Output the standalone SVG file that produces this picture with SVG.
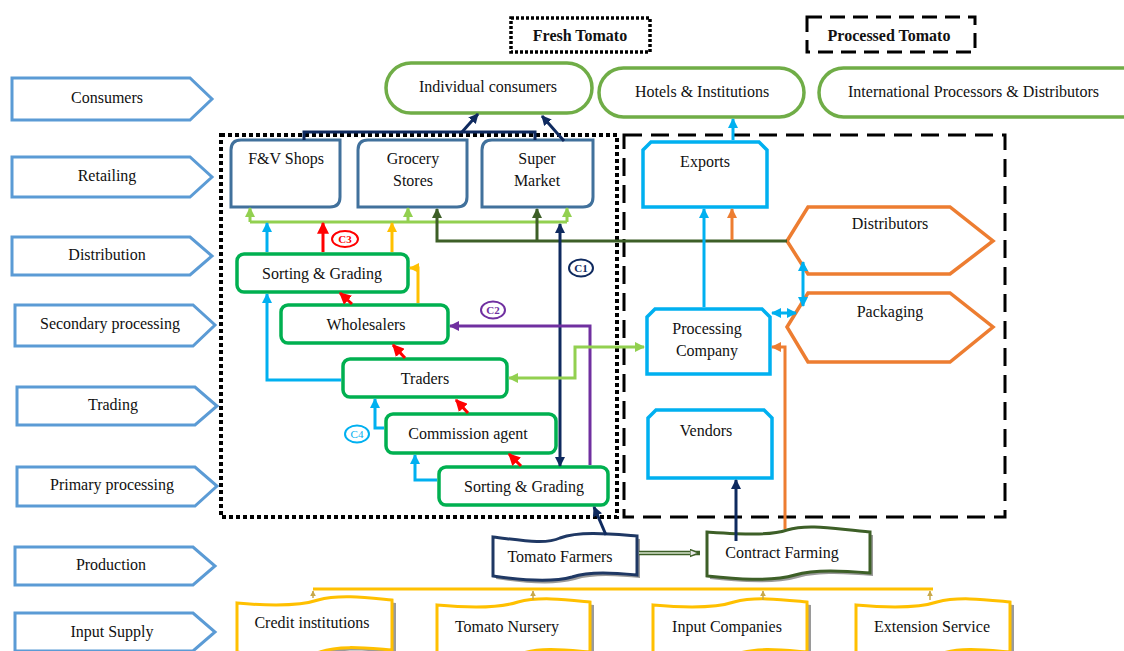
<svg xmlns="http://www.w3.org/2000/svg" width="1124" height="651" viewBox="0 0 1124 651" font-family="'Liberation Serif', 'Times New Roman', 'DejaVu Serif', serif">
<style>
text{font-family:'Liberation Serif','Times New Roman','DejaVu Serif',serif;font-size:16px;fill:#111;text-anchor:middle}
.b{font-weight:bold}
.stage{fill:#fff;stroke:#5b9bd5;stroke-width:3}
.cons{fill:#fff;stroke:#70ad47;stroke-width:3.5}
.ret{fill:#fff;stroke:#41719c;stroke-width:3}
.gb{fill:#fff;stroke:#00b050;stroke-width:3.5}
.pb{fill:#fff;stroke:#00b0f0;stroke-width:3.5}
.hex{fill:#fff;stroke:#ed7d31;stroke-width:3.5}
.inp{fill:#fff;stroke:#ffc000;stroke-width:3}
.sh{fill:#9a9a9a}
.c{fill:none;stroke-width:3}
.lab{font-size:11px;font-weight:bold}
</style>
<defs>
<marker id="m-blue" viewBox="0 0 10 10" refX="9" refY="5" markerWidth="10" markerHeight="10" markerUnits="userSpaceOnUse" orient="auto-start-reverse"><path d="M0,0 L10,5 L0,10 z" fill="#00b0f0"/></marker>
<marker id="m-red" viewBox="0 0 10 10" refX="9" refY="5" markerWidth="12" markerHeight="12" markerUnits="userSpaceOnUse" orient="auto-start-reverse"><path d="M0,0 L10,5 L0,10 z" fill="#ff0000"/></marker>
<marker id="m-yel" viewBox="0 0 10 10" refX="9" refY="5" markerWidth="10" markerHeight="10" markerUnits="userSpaceOnUse" orient="auto-start-reverse"><path d="M0,0 L10,5 L0,10 z" fill="#ffc000"/></marker>
<marker id="m-lg" viewBox="0 0 10 10" refX="9" refY="5" markerWidth="10" markerHeight="10" markerUnits="userSpaceOnUse" orient="auto-start-reverse"><path d="M0,0 L10,5 L0,10 z" fill="#92d050"/></marker>
<marker id="m-dg" viewBox="0 0 10 10" refX="9" refY="5" markerWidth="10" markerHeight="10" markerUnits="userSpaceOnUse" orient="auto-start-reverse"><path d="M0,0 L10,5 L0,10 z" fill="#3d5f27"/></marker>
<marker id="m-navy" viewBox="0 0 10 10" refX="9" refY="5" markerWidth="10" markerHeight="10" markerUnits="userSpaceOnUse" orient="auto-start-reverse"><path d="M0,0 L10,5 L0,10 z" fill="#0f2a5f"/></marker>
<marker id="m-pur" viewBox="0 0 10 10" refX="9" refY="5" markerWidth="10" markerHeight="10" markerUnits="userSpaceOnUse" orient="auto-start-reverse"><path d="M0,0 L10,5 L0,10 z" fill="#7030a0"/></marker>
<marker id="m-or" viewBox="0 0 10 10" refX="9" refY="5" markerWidth="10" markerHeight="10" markerUnits="userSpaceOnUse" orient="auto-start-reverse"><path d="M0,0 L10,5 L0,10 z" fill="#ed7d31"/></marker>
<marker id="m-small" viewBox="0 0 10 10" refX="9" refY="5" markerWidth="6" markerHeight="6" markerUnits="userSpaceOnUse" orient="auto"><path d="M0,0 L10,5 L0,10 z" fill="#c8a84a"/></marker>
<marker id="m-dbl" viewBox="0 0 10 10" refX="9" refY="5" markerWidth="9" markerHeight="9" markerUnits="userSpaceOnUse" orient="auto"><path d="M0,1 L10,5 L0,9 z" fill="#e8e8e8" stroke="#3d5f27" stroke-width="1.5"/></marker>
</defs>
<rect width="1124" height="651" fill="#fff"/>

<!-- Legend -->
<g id="legend-fresh"><rect x="511" y="18" width="139" height="34" fill="none" stroke="#000" stroke-width="3.5" stroke-dasharray="3 2"/><text class="b" x="580" y="41">Fresh Tomato</text></g>
<g id="legend-processed"><rect x="807" y="17" width="168" height="35" fill="none" stroke="#000" stroke-width="3" stroke-dasharray="15 8"/><text class="b" x="889" y="41">Processed Tomato</text></g>

<!-- Stage labels -->
<g id="stage-consumers"><path class="stage" d="M12,78 H190 L212,99 L190,120 H12 Z"/><text x="107" y="103">Consumers</text></g>
<g id="stage-retailing"><path class="stage" d="M12,157 H190 L212,177 L190,197 H12 Z"/><text x="107" y="181">Retailing</text></g>
<g id="stage-distribution"><path class="stage" d="M12,237 H190 L212,256 L190,275 H12 Z"/><text x="107" y="260">Distribution</text></g>
<g id="stage-secondary"><path class="stage" d="M15,305 H193 L215,325 L193,346 H15 Z"/><text x="110" y="329">Secondary processing</text></g>
<g id="stage-trading"><path class="stage" d="M17,387 H195 L217,406 L195,425 H17 Z"/><text x="113" y="410">Trading</text></g>
<g id="stage-primary"><path class="stage" d="M17,467 H195 L217,486 L195,506 H17 Z"/><text x="112" y="490">Primary processing</text></g>
<g id="stage-production"><path class="stage" d="M15,547 H193 L215,566 L193,585 H15 Z"/><text x="111" y="570">Production</text></g>
<g id="stage-input"><path class="stage" d="M15,613 H193 L215,632 L193,651 H15 Z"/><text x="112" y="637">Input Supply</text></g>

<!-- Region boxes -->
<g id="region-fresh"><rect x="221" y="135" width="396" height="382" fill="none" stroke="#000" stroke-width="4" stroke-dasharray="4 3"/></g>
<g id="region-processed"><rect x="624" y="135" width="381" height="382" fill="none" stroke="#000" stroke-width="3" stroke-dasharray="18 9"/></g>

<!-- Consumers -->
<g id="individual-consumers"><rect class="cons" x="386" y="63" width="206" height="50" rx="25"/><text x="488" y="92">Individual consumers</text></g>
<g id="hotels"><rect class="cons" x="599" y="68" width="205" height="49" rx="24.5"/><text x="702" y="97">Hotels &amp; Institutions</text></g>
<g id="international"><rect class="cons" x="819" y="68" width="330" height="49" rx="24.5"/><text x="848" y="97" style="text-anchor:start">International Processors &amp; Distributors</text></g>

<!-- Retail -->
<g id="fv-shops"><path class="ret" d="M241,140 H340 V197 Q340,207 330,207 H231 V150 Q231,140 241,140 Z"/><text x="286" y="164">F&amp;V Shops</text></g>
<g id="grocery"><path class="ret" d="M368,140 H467 V197 Q467,207 457,207 H358 V150 Q358,140 368,140 Z"/><text x="413" y="164">Grocery</text><text x="413" y="186">Stores</text></g>
<g id="supermarket"><path class="ret" d="M492,140 H593 V197 Q593,207 583,207 H482 V150 Q482,140 492,140 Z"/><text x="537" y="164">Super</text><text x="537" y="186">Market</text></g>

<!-- Fresh chain -->
<g id="sg-upper"><rect class="gb" x="237" y="254" width="171" height="38" rx="7"/><text x="322" y="279">Sorting &amp; Grading</text></g>
<g id="wholesalers"><rect class="gb" x="281" y="305" width="167" height="38" rx="7"/><text x="366" y="330">Wholesalers</text></g>
<g id="traders"><rect class="gb" x="343" y="359" width="164" height="38" rx="7"/><text x="425" y="384">Traders</text></g>
<g id="commission"><rect class="gb" x="386" y="414" width="170" height="39" rx="7"/><text x="468" y="439">Commission agent</text></g>
<g id="sg-lower"><rect class="gb" x="439" y="467" width="169" height="38" rx="7"/><text x="524" y="492">Sorting &amp; Grading</text></g>

<!-- Processed side -->
<g id="exports"><path class="pb" d="M651,142 H759 L767,150 V207 H643 V150 Z"/><text x="705" y="167">Exports</text></g>
<g id="processing"><path class="pb" d="M655,309 H762 L770,317 V374 H647 V317 Z"/><text x="707" y="334">Processing</text><text x="707" y="356">Company</text></g>
<g id="vendors"><path class="pb" d="M656,410 H764 L772,418 V478 H648 V418 Z"/><text x="706" y="436">Vendors</text></g>
<g id="distributors"><path class="hex" d="M787,241 L808,207 H950 L993,241 L950,274 H808 Z"/><text x="890" y="229">Distributors</text></g>
<g id="packaging"><path class="hex" d="M787,327 L808,293 H950 L993,327 L950,362 H808 Z"/><text x="890" y="317">Packaging</text></g>

<!-- Production -->
<g id="tomato-farmers">
  <path class="sh" transform="translate(3,3)" d="M493,537 C520,540 545,545 560,538 C580,531 610,534 637,536 V575 C615,573 590,571 572,577 C550,583 520,580 493,576 Z"/>
  <path fill="#fff" stroke="#1f3864" stroke-width="3" d="M493,537 C520,540 545,545 560,538 C580,531 610,534 637,536 V575 C615,573 590,571 572,577 C550,583 520,580 493,576 Z"/>
  <text x="560" y="562">Tomato Farmers</text>
</g>
<g id="contract-farming">
  <path class="sh" transform="translate(3,3)" d="M707,532 C740,534 770,536 787,530 C810,523 840,530 870,532 V573 C845,571 815,569 795,575 C770,582 735,579 707,576 Z"/>
  <path fill="#fff" stroke="#3d5f27" stroke-width="3" d="M707,532 C740,534 770,536 787,530 C810,523 840,530 870,532 V573 C845,571 815,569 795,575 C770,582 735,579 707,576 Z"/>
  <text x="782" y="558">Contract Farming</text>
</g>

<!-- Input supply -->
<g id="credit">
  <path class="sh" transform="translate(4,3)" d="M237,603 C270,606 300,606 318,600 C340,594 370,598 392,600 V650 C365,648 340,645 320,652 C295,660 265,656 237,652 Z"/>
  <path class="inp" d="M237,603 C270,606 300,606 318,600 C340,594 370,598 392,600 V650 C365,648 340,645 320,652 C295,660 265,656 237,652 Z"/>
  <text x="312" y="628">Credit institutions</text>
</g>
<g id="nursery">
  <path class="sh" transform="translate(4,3)" d="M437,605 C470,608 500,608 518,602 C540,596 570,600 590,602 V652 C565,650 540,647 520,654 C495,662 465,658 437,654 Z"/>
  <path class="inp" d="M437,605 C470,608 500,608 518,602 C540,596 570,600 590,602 V652 C565,650 540,647 520,654 C495,662 465,658 437,654 Z"/>
  <text x="507" y="632">Tomato Nursery</text>
</g>
<g id="input-companies">
  <path class="sh" transform="translate(4,3)" d="M653,605 C686,608 716,608 734,602 C756,596 786,600 807,602 V652 C782,650 757,647 737,654 C712,662 682,658 653,654 Z"/>
  <path class="inp" d="M653,605 C686,608 716,608 734,602 C756,596 786,600 807,602 V652 C782,650 757,647 737,654 C712,662 682,658 653,654 Z"/>
  <text x="727" y="632">Input Companies</text>
</g>
<g id="extension">
  <path class="sh" transform="translate(4,3)" d="M856,605 C889,608 919,608 937,602 C959,596 989,600 1010,602 V652 C985,650 960,647 940,654 C915,662 885,658 856,654 Z"/>
  <path class="inp" d="M856,605 C889,608 919,608 937,602 C959,596 989,600 1010,602 V652 C985,650 960,647 940,654 C915,662 885,658 856,654 Z"/>
  <text x="932" y="632">Extension Service</text>
</g>

<!-- Connectors -->
<g id="connectors">
  <polyline class="c" stroke="#0f2a5f" points="304,140 304,132 535,132 535,140"/>
  <line class="c" stroke="#0f2a5f" x1="462" y1="132" x2="478" y2="114" marker-end="url(#m-navy)"/>
  <line class="c" stroke="#0f2a5f" x1="564" y1="141" x2="542" y2="116" marker-end="url(#m-navy)"/>
  <line class="c" stroke="#92d050" x1="250" y1="222" x2="567" y2="222"/>
  <line class="c" stroke="#92d050" x1="250" y1="222" x2="250" y2="208" marker-end="url(#m-lg)"/>
  <line class="c" stroke="#92d050" x1="408" y1="222" x2="408" y2="208" marker-end="url(#m-lg)"/>
  <line class="c" stroke="#92d050" x1="567" y1="222" x2="567" y2="208" marker-end="url(#m-lg)"/>
  <polyline class="c" stroke="#3d5f27" points="787,241 437,241 437,209" marker-end="url(#m-dg)"/>
  <line class="c" stroke="#3d5f27" x1="537" y1="241" x2="537" y2="209" marker-end="url(#m-dg)"/>
  <line class="c" stroke="#00b0f0" x1="267" y1="252" x2="267" y2="223" marker-end="url(#m-blue)"/>
  <line class="c" stroke="#ff0000" x1="323" y1="252" x2="323" y2="223" marker-end="url(#m-red)"/>
  <line class="c" stroke="#ffc000" x1="392" y1="252" x2="392" y2="223" marker-end="url(#m-yel)"/>
  <line class="c" stroke="#0f2a5f" x1="560" y1="224" x2="560" y2="466" marker-start="url(#m-navy)" marker-end="url(#m-navy)"/>
  <polyline class="c" stroke="#ffc000" points="418,303 418,268 410,268" marker-end="url(#m-yel)"/>
  <line class="c" stroke="#ff0000" x1="352" y1="304" x2="340" y2="293" marker-end="url(#m-red)"/>
  <line class="c" stroke="#ff0000" x1="405" y1="358" x2="393" y2="345" marker-end="url(#m-red)"/>
  <line class="c" stroke="#ff0000" x1="468" y1="413" x2="456" y2="400" marker-end="url(#m-red)"/>
  <line class="c" stroke="#ff0000" x1="521" y1="466" x2="509" y2="454" marker-end="url(#m-red)"/>
  <polyline class="c" stroke="#00b0f0" points="341,380 267,380 267,294" marker-end="url(#m-blue)"/>
  <polyline class="c" stroke="#00b0f0" points="384,428 375,428 375,399" marker-end="url(#m-blue)"/>
  <polyline class="c" stroke="#00b0f0" points="437,480 415,480 415,455" marker-end="url(#m-blue)"/>
  <polyline class="c" stroke="#7030a0" points="590,465 590,326 450,326" marker-end="url(#m-pur)"/>
  <polyline class="c" stroke="#92d050" points="509,378 575,378 575,347 644,347" marker-start="url(#m-lg)" marker-end="url(#m-lg)"/>
  <line class="c" stroke="#0f2a5f" x1="606" y1="535" x2="594" y2="507" marker-end="url(#m-navy)"/>
  <line class="c" stroke="#00b0f0" x1="733" y1="140" x2="733" y2="119" marker-end="url(#m-blue)"/>
  <line class="c" stroke="#00b0f0" x1="704" y1="307" x2="704" y2="209" marker-end="url(#m-blue)"/>
  <line class="c" stroke="#ed7d31" x1="732" y1="240" x2="732" y2="209" marker-end="url(#m-or)"/>
  <line class="c" stroke="#00b0f0" x1="803" y1="262" x2="803" y2="306" marker-start="url(#m-blue)" marker-end="url(#m-blue)"/>
  <line class="c" stroke="#00b0f0" x1="772" y1="313" x2="796" y2="313" marker-start="url(#m-blue)" marker-end="url(#m-blue)"/>
  <polyline class="c" stroke="#ed7d31" points="785,529 785,347 772,347" marker-end="url(#m-or)"/>
  <line class="c" stroke="#0f2a5f" x1="736" y1="541" x2="736" y2="480" marker-end="url(#m-navy)"/>
  <line x1="639" y1="553" x2="700" y2="553" stroke="#3d5f27" stroke-width="4.5"/>
  <line x1="639" y1="553" x2="698" y2="553" stroke="#d8e4cf" stroke-width="1.5" marker-end="url(#m-dbl)"/>
  <line class="c" stroke="#ffc000" x1="313" y1="589" x2="933" y2="589"/>
  <line x1="313" y1="598" x2="313" y2="591" stroke="#c8a84a" stroke-width="1.5" marker-end="url(#m-small)"/>
  <line x1="533" y1="600" x2="533" y2="591" stroke="#c8a84a" stroke-width="1.5" marker-end="url(#m-small)"/>
  <line x1="763" y1="600" x2="763" y2="591" stroke="#c8a84a" stroke-width="1.5" marker-end="url(#m-small)"/>
  <line x1="930" y1="600" x2="930" y2="591" stroke="#c8a84a" stroke-width="1.5" marker-end="url(#m-small)"/>
</g>

<!-- Channel labels -->
<g id="label-c1"><ellipse cx="581" cy="268" rx="12" ry="8.5" fill="#fff" stroke="#0f2a5f" stroke-width="2"/><text class="lab" x="581" y="272" style="fill:#0f2a5f">C1</text></g>
<g id="label-c2"><ellipse cx="493" cy="310" rx="12" ry="8.5" fill="#fff" stroke="#7030a0" stroke-width="2"/><text class="lab" x="493" y="314" style="fill:#7030a0">C2</text></g>
<g id="label-c3"><ellipse cx="345" cy="239" rx="13" ry="8" fill="#fff" stroke="#ff0000" stroke-width="2"/><text class="lab" x="345" y="243" style="fill:#ff0000">C3</text></g>
<g id="label-c4"><ellipse cx="357" cy="434" rx="12" ry="8.5" fill="#fff" stroke="#00b0f0" stroke-width="2"/><text class="lab" x="357" y="438" style="fill:#00b0f0;font-weight:normal">C4</text></g>
</svg>
